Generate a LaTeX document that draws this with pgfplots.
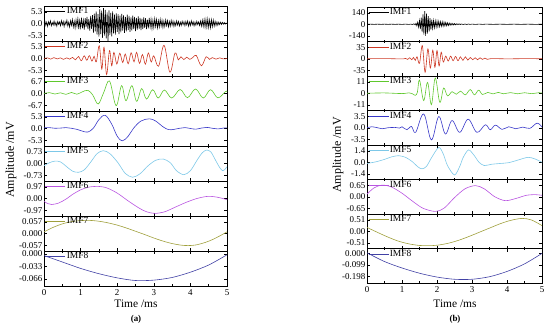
\documentclass[border=0pt]{standalone}
\usepackage{fontspec}
\setmainfont{Liberation Serif}
\usepackage{pgfplots}
\pgfplotsset{compat=1.18}
\definecolor{cA}{RGB}{0,0,0}
\definecolor{cB}{RGB}{205,55,35}
\definecolor{cC}{RGB}{95,200,45}
\definecolor{cD}{RGB}{55,55,200}
\definecolor{cE}{RGB}{125,200,232}
\definecolor{cF}{RGB}{185,85,225}
\definecolor{cG}{RGB}{160,160,60}
\definecolor{cH}{RGB}{65,65,165}
\pgfplotsset{
  base/.style={
    scale only axis, xmin=0, xmax=5,
    xtick={0,1,2,3,4,5}, minor xtick={0.5,1.5,2.5,3.5,4.5},
    xticklabels={}, scaled y ticks=false, scaled x ticks=false,
    tick align=inside,
    major tick length=3bp, minor tick length=1.8bp,
    tick style={black, line width=0.5pt},
    axis line style={line width=0.6pt},
    tick label style={font=\fontsize{9}{10}\selectfont},
    yticklabel style={inner sep=1.5pt},
    legend style={draw=none, fill=none, at={(0,1)}, anchor=north west, xshift=1bp, yshift=-0.5bp,
      font=\fontsize{9.5}{10}\selectfont, inner sep=0pt, nodes={inner sep=1pt}},
    legend image code/.code={\draw[##1] (0bp,0bp) -- (20bp,0bp);},
    anchor=north west,
    every axis plot/.append style={line width=0.6pt},
  },
  L/.style={base, width=183bp, height=35bp},
  R/.style={base, width=175bp, height=34.5bp},
}
\begin{document}
\begin{tikzpicture}
\path[use as bounding box] (0,0) rectangle (550bp,-331bp);
% ---------------- LEFT PANEL ----------------
\begin{axis}[L, at={(44bp,-6bp)}, ymin=-7.95, ymax=7.95, ytick={-5.3,0,5.3}, yticklabels={-5.3,0.0,5.3}]
\addplot[cA] coordinates {(0,0.2)(0.025,1.0)(0.05,-0.9)(0.075,0.6)(0.1,-1.3)(0.125,0.8)(0.15,-0.5)(0.175,1.2)(0.2,-1.0)(0.225,0.4)(0.25,-0.7)(0.275,1.1)(0.3,-0.8)(0.325,0.5)(0.35,-1.2)(0.375,0.9)(0.4,-0.4)(0.425,0.7)(0.45,-1.0)(0.475,1.3)(0.5,-0.6)(0.525,0.9)(0.55,-1.4)(0.575,0.8)(0.6,-0.5)(0.625,1.5)(0.65,-1.1)(0.675,0.6)(0.7,-1.6)(0.725,1.2)(0.75,-0.8)(0.775,1.8)(0.8,-1.5)(0.825,1.0)(0.85,-2.0)(0.875,1.6)(0.9,-1.2)(0.925,2.2)(0.95,-2.5)(0.975,1.4)(1.0,-1.8)(1.025,2.6)(1.05,-2.2)(1.075,1.5)(1.1,-2.8)(1.125,2.4)(1.15,-1.6)(1.175,3.0)(1.2,-2.6)(1.225,2.0)(1.25,-3.2)(1.275,3.5)(1.3,-2.4)(1.325,3.8)(1.35,-4.2)(1.375,4.5)(1.4,-3.6)(1.425,5.5)(1.45,-5.0)(1.475,4.2)(1.5,-6.0)(1.525,6.5)(1.55,-4.8)(1.575,5.8)(1.6,-6.5)(1.625,7.0)(1.65,-5.5)(1.675,6.2)(1.7,-6.8)(1.725,5.0)(1.75,-8.0)(1.775,6.0)(1.8,-5.2)(1.825,4.8)(1.85,-5.8)(1.875,5.5)(1.9,-4.5)(1.925,4.0)(1.95,-5.0)(1.975,4.6)(2.0,-3.8)(2.025,4.2)(2.05,-4.8)(2.075,3.6)(2.1,-4.0)(2.125,4.4)(2.15,-3.2)(2.175,3.8)(2.2,-4.2)(2.225,3.0)(2.25,-3.6)(2.275,4.0)(2.3,-3.0)(2.325,3.4)(2.35,-3.8)(2.375,2.8)(2.4,-3.2)(2.425,3.6)(2.45,-2.6)(2.475,3.0)(2.5,-3.4)(2.525,2.5)(2.55,-2.8)(2.575,3.2)(2.6,-2.4)(2.625,2.6)(2.65,-3.0)(2.675,2.2)(2.7,-2.6)(2.725,2.8)(2.75,-2.0)(2.775,2.4)(2.8,-2.5)(2.825,1.8)(2.85,-2.2)(2.875,2.5)(2.9,-1.6)(2.925,2.0)(2.95,-2.3)(2.975,1.5)(3.0,-1.9)(3.025,2.2)(3.05,-1.4)(3.075,1.8)(3.1,-2.0)(3.125,1.3)(3.15,-1.6)(3.175,1.9)(3.2,-1.2)(3.225,1.5)(3.25,-1.8)(3.275,1.1)(3.3,-1.4)(3.325,1.6)(3.35,-1.0)(3.375,1.3)(3.4,-1.5)(3.425,0.9)(3.45,-1.2)(3.475,1.4)(3.5,-0.8)(3.525,1.1)(3.55,-1.3)(3.575,0.7)(3.6,-1.0)(3.625,1.2)(3.65,-0.7)(3.675,0.9)(3.7,-1.1)(3.725,0.6)(3.75,-0.9)(3.775,1.0)(3.8,-0.5)(3.825,0.8)(3.85,-1.0)(3.875,0.9)(3.9,-0.6)(3.925,1.1)(3.95,-1.2)(3.975,0.7)(4.0,-0.9)(4.025,1.2)(4.05,-0.6)(4.075,0.8)(4.1,-1.1)(4.125,0.6)(4.15,-0.8)(4.175,1.0)(4.2,-0.5)(4.225,0.7)(4.25,-0.9)(4.275,1.1)(4.3,-1.2)(4.325,1.5)(4.35,-1.3)(4.375,1.8)(4.4,-1.6)(4.425,1.9)(4.45,-1.7)(4.475,2.0)(4.5,-1.8)(4.525,1.6)(4.55,-1.9)(4.575,1.7)(4.6,-1.4)(4.625,1.5)(4.65,-1.2)(4.675,1.0)(4.7,-0.9)(4.725,0.7)(4.75,-0.8)(4.775,0.6)(4.8,-0.5)(4.825,0.6)(4.85,-0.4)(4.875,0.5)(4.9,-0.3)(4.925,0.4)(4.95,-0.3)(4.975,0.2)(5.0,0.0)};
\addlegendentry{IMF1}
\end{axis}
\begin{axis}[L, at={(44bp,-41bp)}, ymin=-7.95, ymax=7.95, ytick={-5.3,0,5.3}, yticklabels={-5.3,0.0,5.3}]
\addplot[cB, smooth, tension=0.6] coordinates {(0,0)(0.10,0.3)(0.18,-0.3)(0.27,0.4)(0.36,-0.2)(0.45,0.3)(0.53,-0.4)(0.62,0.3)(0.70,-0.3)(0.78,0.5)(0.86,-0.6)(0.94,0.9)(1.02,-1.0)(1.10,1.2)(1.17,-0.8)(1.24,1.3)(1.31,-1.2)(1.37,1.0)(1.43,-1.5)(1.51,5.8)(1.58,-4.8)(1.64,5.1)(1.71,-7.3)(1.79,3.6)(1.85,-3.3)(1.91,2.8)(1.99,-2.5)(2.07,2.4)(2.15,-1.8)(2.22,2.0)(2.30,-2.4)(2.38,2.6)(2.46,-1.5)(2.53,2.8)(2.61,-2.2)(2.69,1.8)(2.77,-2.6)(2.85,2.5)(2.93,-1.6)(3.00,1.2)(3.13,-3.5)(3.28,6.0)(3.44,-6.2)(3.58,2.5)(3.67,-0.6)(3.74,0.8)(3.82,-0.5)(3.90,0.6)(3.98,-0.4)(4.07,0.5)(4.16,1.4)(4.30,-3.3)(4.43,0.8)(4.52,-0.4)(4.60,0.4)(4.70,-0.3)(4.80,0.3)(4.90,-0.2)(5.00,0.0)};
\addlegendentry{IMF2}
\end{axis}
\begin{axis}[L, at={(44bp,-76bp)}, ymin=-10.05, ymax=10.05, ytick={-6.7,0,6.7}, yticklabels={-6.7,0.0,6.7}]
\addplot[cC, smooth, tension=0.6] coordinates {(0,0)(0.15,0.5)(0.30,-0.3)(0.45,0.4)(0.60,-0.5)(0.75,0.6)(0.90,-0.4)(1.05,1.0)(1.20,1.8)(1.33,-0.8)(1.48,-6.0)(1.63,0.5)(1.79,7.2)(1.97,-7.0)(2.12,4.5)(2.24,-4.1)(2.40,4.5)(2.53,-4.5)(2.67,2.8)(2.80,-3.2)(2.97,2.2)(3.12,-2.6)(3.29,2.0)(3.49,-2.6)(3.72,2.3)(3.92,-2.4)(4.14,2.6)(4.35,-2.6)(4.55,2.2)(4.75,-2.5)(4.96,1.2)(5.00,1.0)};
\addlegendentry{IMF3}
\end{axis}
\begin{axis}[L, at={(44bp,-111bp)}, ymin=-7.95, ymax=7.95, ytick={-5.3,0,5.3}, yticklabels={-5.3,0.0,5.3}]
\addplot[cD, smooth, tension=0.6] coordinates {(0,0.3)(0.15,0.4)(0.30,0.1)(0.45,0.2)(0.60,0.4)(0.75,0.1)(0.90,-0.4)(1.05,-1.2)(1.20,-1.6)(1.35,0.2)(1.50,4.0)(1.67,6.0)(1.85,2.0)(2.00,-3.5)(2.14,-5.6)(2.30,-3.5)(2.45,0.2)(2.65,3.4)(2.88,4.4)(3.05,3.4)(3.25,0.8)(3.40,-0.5)(3.55,-0.4)(3.70,0.1)(3.85,0.4)(4.00,0.0)(4.15,-0.3)(4.30,0.2)(4.45,0.5)(4.60,0.1)(4.75,-0.2)(4.90,0.2)(5.00,0.3)};
\addlegendentry{IMF4}
\end{axis}
\begin{axis}[L, at={(44bp,-146bp)}, ymin=-1.095, ymax=1.095, ytick={-0.73,0,0.73}, yticklabels={-0.73,0.00,0.73}]
\addplot[cE, smooth] coordinates {(0,-0.14)(0.15,0.05)(0.30,0.15)(0.45,0.10)(0.62,-0.20)(0.78,-0.48)(0.94,-0.55)(1.10,-0.40)(1.28,0.10)(1.45,0.62)(1.62,0.80)(1.80,0.62)(2.02,0.05)(2.22,-0.62)(2.42,-0.86)(2.62,-0.65)(2.84,-0.15)(3.05,0.20)(3.26,0.28)(3.45,0.05)(3.62,-0.45)(3.82,-0.70)(4.00,-0.45)(4.18,0.20)(4.32,0.66)(4.44,0.84)(4.56,0.72)(4.70,0.15)(4.80,-0.25)(4.88,-0.45)(4.95,-0.35)(5.00,-0.20)};
\addlegendentry{IMF5}
\end{axis}
\begin{axis}[L, at={(44bp,-181bp)}, ymin=-1.455, ymax=1.455, ytick={-0.97,0,0.97}, yticklabels={-0.97,0.00,0.97}]
\addplot[cF, smooth] coordinates {(0,-0.24)(0.10,-0.42)(0.21,-0.50)(0.40,-0.38)(0.60,-0.05)(0.80,0.38)(1.00,0.72)(1.20,0.93)(1.44,1.01)(1.70,0.90)(2.00,0.45)(2.30,-0.20)(2.60,-0.80)(2.80,-1.10)(3.03,-1.24)(3.30,-1.10)(3.60,-0.70)(3.90,-0.30)(4.20,0.02)(4.49,0.18)(4.75,0.10)(5.00,-0.10)};
\addlegendentry{IMF6}
\end{axis}
\begin{axis}[L, at={(44bp,-216bp)}, ymin=-0.0855, ymax=0.0855, ytick={-0.057,0,0.057}, yticklabels={-0.057,0.000,0.057}]
\addplot[cG, smooth] coordinates {(0,0.008)(0.25,0.030)(0.50,0.047)(0.75,0.058)(1.00,0.063)(1.25,0.064)(1.50,0.060)(1.75,0.052)(2.00,0.041)(2.25,0.027)(2.50,0.011)(2.75,-0.005)(3.00,-0.022)(3.25,-0.037)(3.50,-0.049)(3.75,-0.057)(3.94,-0.059)(4.15,-0.056)(4.40,-0.044)(4.60,-0.030)(4.80,-0.012)(5.00,0.008)};
\addlegendentry{IMF7}
\end{axis}
\begin{axis}[L, at={(44bp,-251bp)}, ymin=-0.0845, ymax=0.0080, ytick={-0.066,-0.033,0}, yticklabels={-0.066,-0.033,0.000}, xticklabels={0,1,2,3,4,5}]
\addplot[cH, smooth] coordinates {(0,-0.004)(0.5,-0.021)(1.0,-0.038)(1.5,-0.052)(2.0,-0.063)(2.5,-0.070)(3.0,-0.069)(3.5,-0.062)(4.0,-0.048)(4.5,-0.029)(5.0,-0.002)};
\addlegendentry{IMF8}
\end{axis}
% ---------------- RIGHT PANEL ----------------
\begin{axis}[R, at={(367bp,-7bp)}, ymin=-210, ymax=210, ytick={-140,0,140}, yticklabels={-140,0,140}]
\addplot[cA] coordinates {(0,0)(0.1,1)(0.2,-1)(0.3,1)(0.4,-1)(0.5,1)(0.6,-1)(0.7,1)(0.8,-1)(0.9,1)(1.0,-1.5)(1.1,1.5)(1.2,-2)(1.25,2)(1.3,-3)(1.325,3)(1.35,3)(1.375,-8)(1.4,12)(1.425,-18)(1.45,25)(1.475,-35)(1.5,45)(1.525,-60)(1.55,80)(1.575,-95)(1.6,120)(1.625,-125)(1.65,160)(1.675,-140)(1.7,130)(1.725,-115)(1.75,100)(1.775,-90)(1.8,75)(1.825,-65)(1.85,55)(1.875,-50)(1.9,45)(1.925,-42)(1.95,40)(1.975,-35)(2.0,38)(2.025,-30)(2.05,34)(2.075,-28)(2.1,30)(2.125,-25)(2.15,28)(2.175,-24)(2.2,26)(2.225,-20)(2.25,22)(2.275,-18)(2.3,18)(2.325,-15)(2.35,14)(2.375,-12)(2.4,12)(2.425,-10)(2.45,9)(2.475,-8)(2.5,8)(2.525,-7)(2.55,6)(2.575,-5)(2.6,5)(2.625,-4)(2.65,4)(2.675,-3)(2.7,3)(2.75,-3)(2.8,3)(2.85,-2.5)(2.9,2.5)(2.95,-2)(3.0,2)(3.1,-2)(3.2,2)(3.3,-1.5)(3.4,1.5)(3.6,-1)(3.8,1)(4.0,-1)(4.2,1)(4.4,-1)(4.6,1)(4.8,-1)(5.0,0)};
\addlegendentry{IMF1}
\end{axis}
\begin{axis}[R, at={(367bp,-41.5bp)}, ymin=-52.5, ymax=52.5, ytick={-35,0,35}, yticklabels={-35,0,35}]
\addplot[cB, smooth, tension=0.6] coordinates {(0,0)(0.5,0.5)(1.0,-0.5)(1.1,1)(1.16,-2)(1.22,3)(1.28,-3)(1.33,4)(1.38,-5)(1.43,6)(1.50,-14)(1.58,40)(1.66,-41)(1.74,30)(1.81,-28)(1.88,26)(1.94,-26)(2.00,25)(2.06,-22)(2.12,20)(2.18,-10)(2.25,8)(2.32,-7)(2.39,8)(2.46,-6)(2.53,7)(2.60,-6)(2.67,6)(2.74,-5)(2.81,6)(2.88,-4)(2.95,4)(3.02,-3)(3.09,3)(3.16,-3)(3.23,3)(3.30,-2)(3.37,2)(3.44,-2)(3.55,0.5)(4.0,-0.3)(4.5,0.3)(5.0,0)};
\addlegendentry{IMF2}
\end{axis}
\begin{axis}[R, at={(367bp,-76bp)}, ymin=-16.5, ymax=16.5, ytick={-11,0,11}, yticklabels={-11,0,11}]
\addplot[cC, smooth, tension=0.6] coordinates {(0,0)(0.5,0.3)(1.0,-0.3)(1.2,0.4)(1.3,-0.5)(1.38,-2)(1.44,1)(1.50,12.7)(1.62,-7)(1.73,10.4)(1.84,-10.9)(1.95,14.6)(2.08,-8.7)(2.19,5)(2.30,-2.5)(2.43,1.5)(2.55,-1)(2.67,2)(2.81,-1.5)(2.95,3.5)(3.07,-1.5)(3.19,3)(3.30,-1.2)(3.45,0.8)(3.6,-0.6)(3.75,0.8)(3.9,-0.5)(4.1,0.6)(4.3,-0.5)(4.5,0.5)(4.7,-0.4)(4.9,0.5)(5.0,0.2)};
\addlegendentry{IMF3}
\end{axis}
\begin{axis}[R, at={(367bp,-110.5bp)}, ymin=-5.25, ymax=5.25, ytick={-3.5,0,3.5}, yticklabels={-3.5,0.0,3.5}]
\addplot[cD, smooth, tension=0.6] coordinates {(0,0)(0.14,0.3)(0.30,0.0)(0.43,-0.3)(0.60,0.0)(0.80,0.1)(0.93,-0.1)(1.00,0.3)(1.14,-0.6)(1.27,0.4)(1.39,-1.4)(1.62,4.2)(1.84,-3.7)(2.05,3.4)(2.24,-1.9)(2.43,2.2)(2.65,-1.4)(2.89,2.6)(3.14,-1.4)(3.38,0.9)(3.52,-0.6)(3.67,0.8)(3.86,-0.5)(4.05,0.3)(4.25,-0.3)(4.45,0.2)(4.65,-0.2)(4.86,1.4)(5.00,0.2)};
\addlegendentry{IMF4}
\end{axis}
\begin{axis}[R, at={(367bp,-145bp)}, ymin=-2.1, ymax=2.1, ytick={-1.4,0,1.4}, yticklabels={-1.4,0.0,1.4}]
\addplot[cE, smooth] coordinates {(0,-0.15)(0.25,0.05)(0.50,0.35)(0.70,0.65)(0.90,0.80)(1.10,0.60)(1.30,0.05)(1.45,-0.55)(1.57,-0.80)(1.70,-0.50)(1.85,0.60)(2.05,1.80)(2.18,1.00)(2.30,-0.40)(2.50,-1.55)(2.65,-0.50)(2.75,0.60)(2.90,1.50)(3.05,0.90)(3.20,0.00)(3.35,-0.40)(3.55,-0.25)(3.80,-0.15)(4.05,-0.05)(4.30,0.25)(4.60,0.60)(4.80,0.40)(5.00,0.00)};
\addlegendentry{IMF5}
\end{axis}
\begin{axis}[R, at={(367bp,-179.5bp)}, ymin=-0.975, ymax=0.975, ytick={-0.65,0,0.65}, yticklabels={-0.65,0.00,0.65}]
\addplot[cF, smooth] coordinates {(0,0.15)(0.20,0.50)(0.43,0.66)(0.70,0.55)(1.00,0.20)(1.30,-0.25)(1.60,-0.65)(1.95,-0.83)(2.20,-0.65)(2.50,-0.05)(2.80,0.45)(3.10,0.63)(3.35,0.45)(3.65,0.00)(3.95,-0.22)(4.25,-0.10)(4.55,0.08)(4.81,0.12)(5.00,0.08)};
\addlegendentry{IMF6}
\end{axis}
\begin{axis}[R, at={(367bp,-214bp)}, ymin=-0.765, ymax=0.765, ytick={-0.51,0,0.51}, yticklabels={-0.51,0.00,0.51}]
\addplot[cG, smooth] coordinates {(0,0.17)(0.30,-0.05)(0.60,-0.26)(0.90,-0.44)(1.20,-0.56)(1.50,-0.63)(1.76,-0.64)(2.00,-0.62)(2.30,-0.54)(2.60,-0.41)(2.90,-0.24)(3.20,-0.05)(3.50,0.14)(3.80,0.33)(4.10,0.48)(4.43,0.57)(4.70,0.50)(5.00,0.25)};
\addlegendentry{IMF7}
\end{axis}
\begin{axis}[R, at={(367bp,-248.5bp)}, ymin=-0.254, ymax=0.042, ytick={-0.198,-0.099,0}, yticklabels={-0.198,-0.099,0.000}, xticklabels={0,1,2,3,4,5}]
\addplot[cH, smooth] coordinates {(0,0.005)(0.5,-0.070)(1.0,-0.125)(1.5,-0.170)(2.0,-0.203)(2.5,-0.222)(3.0,-0.222)(3.5,-0.200)(4.0,-0.155)(4.5,-0.090)(5.0,0.000)};
\addlegendentry{IMF8}
\end{axis}
% ---------------- LABELS ----------------
\node[rotate=90, font=\fontsize{12}{13}\selectfont] at (11bp,-160bp) {Amplitude /mV};
\node[rotate=90, font=\fontsize{12}{13}\selectfont] at (338bp,-155bp) {Amplitude /mV};
\node[font=\fontsize{11.5}{12}\selectfont] at (136bp,-304bp) {Time /ms};
\node[font=\fontsize{11.5}{12}\selectfont] at (455bp,-304bp) {Time /ms};
\node[font=\fontsize{9}{10}\selectfont\bfseries] at (136bp,-319bp) {(a)};
\node[font=\fontsize{9}{10}\selectfont\bfseries] at (455bp,-319bp) {(b)};
\end{tikzpicture}
\end{document}
